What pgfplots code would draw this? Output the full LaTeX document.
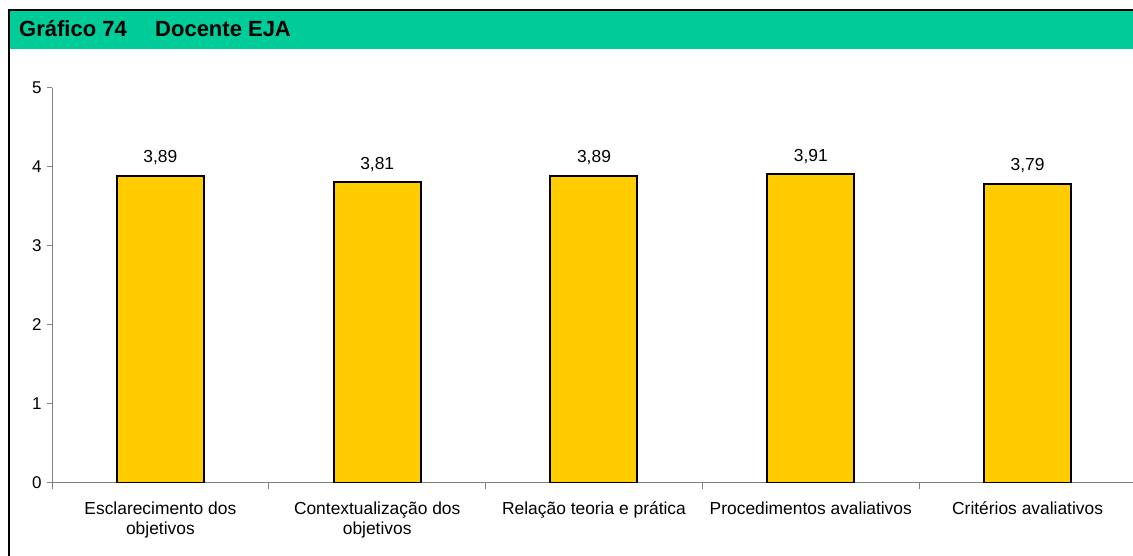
\documentclass[border=0pt]{standalone}
\usepackage{pgfplots}
\pgfplotsset{compat=1.18}
\usepackage{fontspec}
\setmainfont{Liberation Sans}
\definecolor{banda}{HTML}{00CC99}
\definecolor{barra}{HTML}{FFCC00}
\definecolor{eixo}{HTML}{808080}
\begin{document}
\begin{tikzpicture}
% fundo e moldura
\path[fill=white] (0pt,0pt) rectangle (1133pt,556pt);
\fill[banda] (10pt,507pt) rectangle (1140pt,545pt);
\draw[line width=2.5pt] (9pt,-5pt) -- (9pt,546pt) -- (1140pt,546pt);
\node[anchor=base west, font=\bfseries\fontsize{22}{25}\selectfont, inner sep=0pt] at (19pt,519pt) {Gráfico 74};
\node[anchor=base west, font=\bfseries\fontsize{22}{25}\selectfont, inner sep=0pt] at (155pt,519pt) {Docente EJA};

\begin{axis}[
  at={(52pt,73pt)}, anchor=south west,
  scale only axis, width=1084pt, height=395pt,
  xmin=0, xmax=5, ymin=0, ymax=5,
  axis x line*=bottom, axis y line*=left,
  axis line style={eixo, line width=1pt},
  tick style={eixo, line width=1pt},
  tick align=outside,
  major tick length=5pt, minor tick length=6pt,
  xtick={0.5,1.5,2.5,3.5,4.5},
  major x tick style={draw=none},
  minor xtick={0,1,2,3,4,5},
  xticklabels={{Esclarecimento dos\\objetivos},{Contextualização dos\\objetivos},{Relação teoria e prática},{Procedimentos avaliativos},{Critérios avaliativos}},
  xticklabel style={align=center, font=\fontsize{17.4}{20}\selectfont, yshift=-10pt},
  ytick={0,1,2,3,4,5},
  yticklabel style={font=\fontsize{17}{19}\selectfont, xshift=-2pt},
  /pgf/number format/assume math mode=true,
  ybar, bar width=87pt, bar shift=0pt,
  nodes near coords,
  nodes near coords style={anchor=base, yshift=13pt, font=\fontsize{17.4}{19}\selectfont,
    /pgf/number format/.cd, fixed, zerofill, precision=2, use comma, assume math mode=true},
]
\addplot[fill=barra, draw=black, line width=2pt] coordinates {
  (0.5,3.89) (1.5,3.81) (2.5,3.89) (3.5,3.91) (4.5,3.79)
};
\end{axis}
\pgfresetboundingbox
\path (0pt,0pt) rectangle (1133pt,556pt);
\end{tikzpicture}
\end{document}
